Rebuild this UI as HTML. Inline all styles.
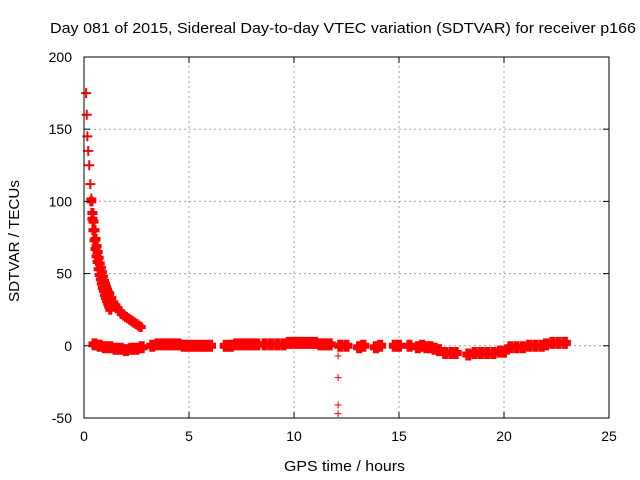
<!DOCTYPE html>
<html><head><meta charset="utf-8"><style>
body{margin:0;background:#fff;}
svg{display:block;font-family:"Liberation Sans",sans-serif;font-size:14px;}
.lbl{font-size:15px;}
</style></head><body>
<svg id="chart" width="640" height="480">
<text class="lbl" x="50" y="33" textLength="586" lengthAdjust="spacingAndGlyphs">Day 081 of 2015, Sidereal Day-to-day VTEC variation (SDTVAR) for receiver p166</text>
<text class="lbl" x="284" y="471" textLength="121" lengthAdjust="spacingAndGlyphs">GPS time / hours</text>
<text class="lbl" transform="translate(19,302) rotate(-90)" textLength="122" lengthAdjust="spacingAndGlyphs">SDTVAR / TECUs</text>
<g id="grid"></g><g id="marks"></g>
<rect x="84" y="57" width="525" height="361" fill="none" stroke="#000" stroke-width="1"/>
<g id="ticks"></g>
</svg>
<script>
const xTicks=[0,5,10,15,20,25];
const yTicks=[-50,0,50,100,150,200];
const curveA_t=[0.1,0.13,0.16,0.2,0.25,0.3,0.35,0.4,0.45,0.5,0.55,0.6,0.65,0.7,0.75,0.8,0.85,0.9,0.95,1.0,1.05,1.1,1.15,1.2,1.3,1.4,1.5,1.6,1.7,1.8,1.9,2.0,2.1,2.2,2.3,2.4,2.5,2.6,2.7];
const curveA_v=[175,160,145,135,125,112,102,92,86,80,74,69,65,61,57,54,51,48,45,43,41,39,37,36,33,30,28,26,24,22,21,20,19,18,17,16,15,14,13];
const curveB_t=[0.35,0.4,0.45,0.5,0.55,0.6,0.65,0.7,0.75,0.8,0.85,0.9,0.95,1.0,1.05,1.1,1.15,1.2,1.25];
const curveB_v=[100,88,80,73,67,62,58,53,49,46,43,40,38,35,33,31,29,27,25];
const base_t=[0.5,0.75,1.0,1.25,1.5,1.75,2.0,2.25,2.5,2.75,3.25,3.5,3.75,4.0,4.25,4.5,4.75,5.0,5.25,5.5,5.75,6.0,6.75,7.0,7.25,7.5,7.75,8.0,8.25,8.6,8.9,9.2,9.5,9.75,10.0,10.25,10.5,10.75,11.0,11.25,11.5,11.7,12.2,12.5,13.1,13.3,13.9,14.1,14.8,15.0,15.5,15.9,16.1,16.3,16.5,16.7,16.9,17.2,17.5,17.7,18.3,18.6,18.9,19.2,19.5,19.8,20.0,20.3,20.6,20.9,21.2,21.5,21.8,22.0,22.3,22.6,22.9];
const base_v=[1,0,-1,-1,-2,-2,-3,-2,-2,-1,0,1,1,1,1,1,0,0,0,0,0,0,0,0,1,1,1,1,1,1,1,1,1,2,2,2,2,2,2,1,1,1,0,0,-1,0,-1,0,0,0,0,-1,0,-1,-1,-2,-3,-5,-5,-5,-6,-5,-5,-5,-5,-4,-4,-1,-1,-1,0,0,0,1,2,2,2];
const out_t=[12.1,12.1,12.1,12.1];
const out_v=[-7,-22,-41,-47];
const X0=84,X1=609,Y0=418,Y1=57;
const xs=t=>X0+(t-0)/(25-0)*(X1-X0);
const ys=v=>Y0-(v+50)/(250)*(Y0-Y1);
const NS="http://www.w3.org/2000/svg";
const grid=document.getElementById('grid'),ticks=document.getElementById('ticks'),marks=document.getElementById('marks');
function mk(tag,attrs,parent){const e=document.createElementNS(NS,tag);for(const k in attrs)e.setAttribute(k,attrs[k]);parent.appendChild(e);return e;}
xTicks.forEach(t=>{const x=xs(t);
 if(t>0&&t<25){const g=mk('line',{x1:x,x2:x,y1:Y0,y2:Y1,stroke:'#a0a0a0','stroke-dasharray':'2,3'},grid);
 
 }
 mk('line',{x1:x,x2:x,y1:Y0,y2:Y0-6,stroke:'#000'},ticks);mk('line',{x1:x,x2:x,y1:Y1,y2:Y1+6,stroke:'#000'},ticks);
 const l=mk('text',{x:x,y:Y0+23,'text-anchor':'middle'},ticks);l.textContent=t;
 
 });
yTicks.forEach(v=>{const y=ys(v);
 if(v>-50&&v<200){const g=mk('line',{x1:X0,x2:X1,y1:y,y2:y,stroke:'#a0a0a0','stroke-dasharray':'2,3'},grid);
 
 }
 mk('line',{x1:X0,x2:X0+6,y1:y,y2:y,stroke:'#000'},ticks);mk('line',{x1:X1,x2:X1-6,y1:y,y2:y,stroke:'#000'},ticks);
 const l=mk('text',{x:X0-12,y:y+5,'text-anchor':'end'},ticks);l.textContent=v;
 
 });
function plus(t,v,s,w,name){const x=xs(t),y=ys(v);
 const p=mk('path',{d:`M${x-s},${y}H${x+s}M${x},${y-s}V${y+s}`,stroke:'#f00','stroke-width':w,fill:'none'},marks);
 
 }
curveA_t.forEach((t,i)=>plus(t,curveA_v[i],5,t<0.4?2:4,'curve-a-point'));
curveB_t.forEach((t,i)=>plus(t,curveB_v[i],5,4,'curve-b-point'));
base_t.forEach((t,i)=>plus(t,base_v[i],6,6,'baseline-point'));
out_t.forEach((t,i)=>plus(t,out_v[i],3.5,1,'outlier-point'));
</script>
</body></html>
